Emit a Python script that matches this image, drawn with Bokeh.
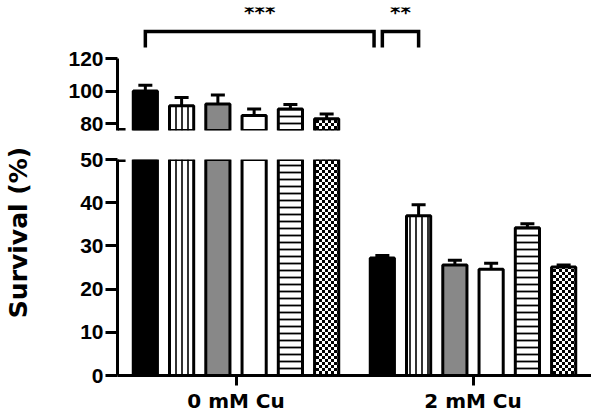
import math
from bokeh.plotting import figure
from bokeh.layouts import column, row
from bokeh.models import FixedTicker, CanvasTexture, Range1d, ColumnDataSource
from bokeh.transform import dodge
from bokeh.core.properties import value
from bokeh.embed import file_html
from bokeh.resources import INLINE

# ---------------- data ----------------
groups = ["0 mM Cu", "2 mM Cu"]
group_x = [0, 1]

black_mean = [100.0, 27.2]
black_err = [3.5, 0.6]
vertical_mean = [91.0, 37.0]
vertical_err = [5.0, 2.5]
gray_mean = [92.0, 25.6]
gray_err = [5.5, 1.1]
white_mean = [85.0, 24.6]
white_err = [4.0, 1.4]
horizontal_mean = [89.0, 34.2]
horizontal_err = [2.7, 0.9]
checker_mean = [83.0, 25.1]
checker_err = [2.8, 0.5]

lower_ticks = [0, 10, 20, 30, 40, 50]
upper_ticks = [80, 100, 120]

# significance: (label, (group, series index), (group, series index))
sig_labels = ["***", "**"]
sig_from = [(0, 0), (1, 0)]
sig_to = [(1, 0), (1, 1)]

y_title = "Survival (%)"

# ---------------- styles ----------------
checker_tex = CanvasTexture(code="""
const c = ctx.canvas;
const n = 6;
c.width = n; c.height = n;
ctx.setTransform(1, 0, 0, 1, 0, 0);
ctx.clearRect(0, 0, n, n);
ctx.fillStyle = "#000000";
ctx.fillRect(0, 0, n / 2, n / 2);
ctx.fillRect(n / 2, n / 2, n / 2, n / 2);
""")

series = [
    (black_mean, black_err, dict(fill_color="black")),
    (vertical_mean, vertical_err, dict(fill_color="white", hatch_pattern="vertical_line",
                                       hatch_color="black", hatch_scale=6, hatch_weight=1.6)),
    (gray_mean, gray_err, dict(fill_color="#888888")),
    (white_mean, white_err, dict(fill_color="white")),
    (horizontal_mean, horizontal_err, dict(fill_color="white", hatch_pattern="horizontal_line",
                                           hatch_color="black", hatch_scale=7, hatch_weight=1.8)),
    (checker_mean, checker_err, dict(fill_color="white", hatch_pattern=value("checker"),
                                     hatch_extra={"checker": checker_tex},
                                     hatch_color="black", hatch_scale=6)),
]

STEP = 0.153
BAR_W = 0.102
offsets = [(i - 2.5) * STEP for i in range(len(series))]

UP_LO, UP_HI = 75.7, 151.4
LO_LO, LO_HI = 0, 50

TITLE_W = 40
TOTAL_H = 416
x_rng = Range1d(-0.5, 1.5)

common = dict(width=591 - TITLE_W, output_backend="svg", toolbar_location=None, x_range=x_rng,
              min_border_left=117 - TITLE_W, min_border_right=0)

up = figure(height=140, y_range=Range1d(UP_LO, UP_HI), x_axis_location=None,
            min_border_top=7, min_border_bottom=10, **common)
lo = figure(height=TOTAL_H - 140, y_range=Range1d(LO_LO, LO_HI),
            min_border_top=19, min_border_bottom=41, **common)

# narrow strip that carries the y title across the broken axis
tt = figure(width=TITLE_W, height=TOTAL_H, output_backend="svg", toolbar_location=None,
            x_range=Range1d(0, TITLE_W), y_range=Range1d(0, TOTAL_H),
            x_axis_location=None, y_axis_location=None,
            min_border_left=0, min_border_right=0, min_border_top=0, min_border_bottom=0)
tt.outline_line_color = None
tt.xgrid.grid_line_color = None
tt.ygrid.grid_line_color = None
tt.text(x=[17.5], y=[TOTAL_H - 232], text=[y_title], angle=math.pi / 2,
        text_align="center", text_baseline="middle",
        text_font=value("DejaVu Sans"), text_font_style="bold",
        text_font_size="25px", text_color="black")


def style_axis(ax, size="21px", font="Liberation Sans"):
    ax.axis_line_width = 3
    ax.axis_line_color = "black"
    ax.major_tick_line_width = 3
    ax.major_tick_line_color = "black"
    ax.major_tick_in = 0
    ax.minor_tick_line_color = None
    ax.major_label_text_font = font
    ax.major_label_text_font_style = "bold"
    ax.major_label_text_font_size = size
    ax.major_label_text_color = "black"


for p in (up, lo):
    p.outline_line_color = None
    p.xgrid.grid_line_color = None
    p.ygrid.grid_line_color = None
    p.background_fill_color = "white"
    p.border_fill_color = "white"
    lo_lim = p.y_range.start

    for i, (m, e, sty) in enumerate(series):
        keep = [k for k in range(len(m)) if m[k] + e[k] > lo_lim]
        src = ColumnDataSource(dict(x=[group_x[k] for k in keep],
                                    mean=[m[k] for k in keep],
                                    top_err=[m[k] + e[k] for k in keep]))
        xs = dodge("x", offsets[i])
        p.vbar(x=xs, top="mean", bottom=0, width=BAR_W, source=src,
               line_color="black", line_width=3, **sty)
        p.segment(x0=xs, y0="mean", x1=xs, y1="top_err", source=src,
                  line_color="black", line_width=3)
        p.scatter(x=xs, y="top_err", source=src, marker="dash", size=14,
                  line_color="black", line_width=3)

# upper y axis
style_axis(up.yaxis[0])
up.yaxis.ticker = FixedTicker(ticks=upper_ticks)
up.yaxis.bounds = (UP_LO, upper_ticks[-1])
up.yaxis.major_tick_out = 12
up.yaxis.major_label_standoff = 2
up.segment(x0=[x_rng.start], y0=[UP_LO], x1=[x_rng.start + 0.034], y1=[UP_LO],
           line_color="black", line_width=5)

# lower y axis
style_axis(lo.yaxis[0])
lo.yaxis.ticker = FixedTicker(ticks=lower_ticks)
lo.yaxis.bounds = (LO_LO, LO_HI)
lo.yaxis.major_tick_out = 12
lo.yaxis.major_label_standoff = 2
lo.segment(x0=[x_rng.start], y0=[LO_HI], x1=[x_rng.start + 0.034], y1=[LO_HI],
           line_color="black", line_width=5)

# x axis
style_axis(lo.xaxis[0], size="20px", font="DejaVu Sans")
lo.xaxis.ticker = FixedTicker(ticks=group_x)
lo.xaxis.major_label_overrides = {gx: g for gx, g in zip(group_x, groups)}
lo.xaxis.major_tick_out = 10
lo.xaxis.major_label_standoff = 3

# significance brackets (upper panel)
BR_TOP, BR_BOT, STAR_Y = 136.6, 126.8, 141.5
GAP = 0.035
bx, by, tx, ty = [], [], [], []
for k, (lab, a, b) in enumerate(zip(sig_labels, sig_from, sig_to)):
    x0 = group_x[a[0]] + offsets[a[1]]
    x1 = group_x[b[0]] + offsets[b[1]]
    if k + 1 < len(sig_labels) and sig_from[k + 1] == b:
        x1 -= GAP
    bx.append([x0, x0, x1, x1])
    by.append([BR_BOT, BR_TOP, BR_TOP, BR_BOT])
    tx.append((x0 + x1) / 2)
    ty.append(STAR_Y)
up.multi_line(xs=bx, ys=by, line_color="black", line_width=3.5, line_join="miter")
up.text(x=tx, y=ty, text=sig_labels, text_align="center", text_baseline="bottom",
        text_font=value("DejaVu Sans"), text_font_style="bold",
        text_font_size="20px", text_color="black")

layout = row(tt, column(up, lo, spacing=0), spacing=0)
open("out.html", "w").write(file_html(layout, INLINE))
